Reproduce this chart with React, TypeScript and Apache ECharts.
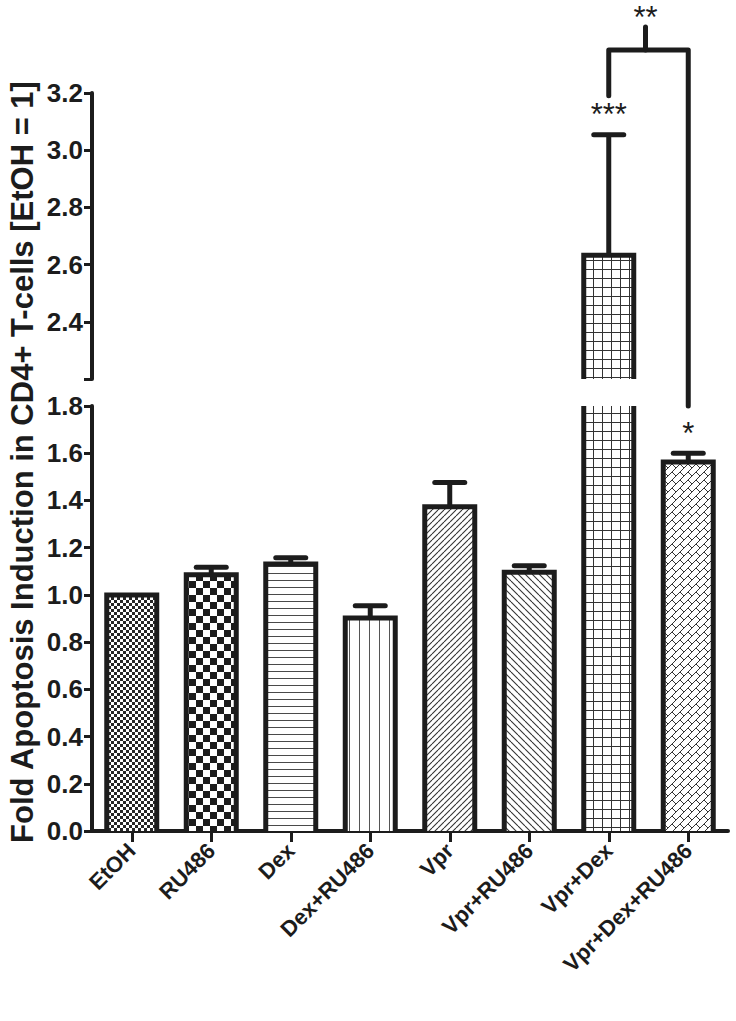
import React, { useEffect, useRef } from "react";
import * as echarts from "echarts";

// ---------- data ----------
const categories = ["EtOH", "RU486", "Dex", "Dex+RU486", "Vpr", "Vpr+RU486", "Vpr+Dex", "Vpr+Dex+RU486"];
const meanValues = [1.0, 1.085, 1.131, 0.902, 1.373, 1.096, 2.633, 1.563];
const semValues = [0, 0.032, 0.026, 0.052, 0.103, 0.027, 0.421, 0.037];
const significance = ["", "", "", "", "", "", "***", "*"];
const patternKinds = ["fineCheck", "coarseCheck", "horizontal", "vertical", "diagUp", "diagDown", "grid", "brick"];

const LOWER_MIN = 0;
const LOWER_MAX = 1.8;
const UPPER_MIN = 2.2;
const UPPER_MAX = 3.2;
const TICK_STEP = 0.2;

// comparison bracket (Vpr+Dex vs Vpr+Dex+RU486)
const bracketFrom = 6;
const bracketTo = 7;
const bracketValue = 3.35;
const bracketLeftEnd = 3.19;
const bracketLabel = "**";

const yTitle = "Fold Apoptosis Induction in CD4+ T-cells [EtOH = 1]";

// ---------- layout / style ----------
const W = 736;
const H = 1021;
const GRID_LEFT = 92;
const GRID_WIDTH = 636;
const UPPER_TOP = 93;
const UPPER_H = 286;
const LOWER_TOP = 406;
const LOWER_H = 425;
const GAP = LOWER_TOP - (UPPER_TOP + UPPER_H);
const BAR_W = 50;
const BORDER = 5;
const CAP_W = 30;
const INK = "#1c1c1c";
const FONT = "'Liberation Sans', Arial, Helvetica, sans-serif";

function tile(w: number, h: number, draw: (ctx: CanvasRenderingContext2D) => void) {
  const c = document.createElement("canvas");
  c.width = w;
  c.height = h;
  const ctx = c.getContext("2d") as CanvasRenderingContext2D;
  ctx.fillStyle = "#ffffff";
  ctx.fillRect(0, 0, w, h);
  draw(ctx);
  return c;
}

function makePattern(kind: string) {
  switch (kind) {
    case "fineCheck":
      return tile(6, 6, (ctx) => {
        ctx.fillStyle = "#262626";
        ctx.fillRect(0, 0, 3, 3);
        ctx.fillRect(3, 3, 3, 3);
      });
    case "coarseCheck":
      return tile(14, 14, (ctx) => {
        ctx.fillStyle = "#1c1c1c";
        ctx.fillRect(0, 0, 7, 7);
        ctx.fillRect(7, 7, 7, 7);
      });
    case "horizontal":
      return tile(8, 7, (ctx) => {
        ctx.fillStyle = "#4a4a4a";
        ctx.fillRect(0, 6, 8, 1);
      });
    case "vertical":
      return tile(10, 10, (ctx) => {
        ctx.fillStyle = "#555555";
        ctx.fillRect(9, 0, 1, 10);
      });
    case "diagUp":
      return tile(6, 6, (ctx) => {
        ctx.strokeStyle = "#333333";
        ctx.lineWidth = 1.1;
        for (const k of [-6, 0, 6]) {
          ctx.beginPath();
          ctx.moveTo(k, 6);
          ctx.lineTo(k + 6, 0);
          ctx.stroke();
        }
      });
    case "diagDown":
      return tile(7, 7, (ctx) => {
        ctx.strokeStyle = "#333333";
        ctx.lineWidth = 1.1;
        for (const k of [-7, 0, 7]) {
          ctx.beginPath();
          ctx.moveTo(k, 0);
          ctx.lineTo(k + 7, 7);
          ctx.stroke();
        }
      });
    case "grid":
      return tile(9, 9, (ctx) => {
        ctx.fillStyle = "#333333";
        ctx.fillRect(8, 0, 1, 9);
        ctx.fillRect(0, 8, 9, 1);
      });
    case "brick":
    default:
      return tile(8, 8, (ctx) => {
        const T = 8;
        ctx.strokeStyle = "#333333";
        ctx.lineWidth = 1;
        for (const dx of [-T, 0, T]) {
          for (const dy of [-T, 0, T]) {
            ctx.beginPath();
            ctx.moveTo(dx, dy + T);
            ctx.lineTo(dx + T, dy);
            ctx.stroke();
            ctx.beginPath();
            ctx.moveTo(dx, dy);
            ctx.lineTo(dx + T / 2, dy + T / 2);
            ctx.stroke();
          }
        }
      });
  }
}

export default function App() {
  const ref = useRef<HTMLDivElement>(null);

  useEffect(() => {
    if (!ref.current) return;
    const chart = echarts.init(ref.current, undefined, { renderer: "svg" });

    const patterns = patternKinds.map((k) => ({ image: makePattern(k), repeat: "repeat" }));
    const rows = meanValues.map((m, i) => [i, m, semValues[i]]);

    const lowerBars = meanValues.map((v, i) => ({ value: v, itemStyle: { color: patterns[i] } }));
    const upperBars = meanValues.map((v, i) =>
      v > UPPER_MIN ? { value: v, itemStyle: { color: patterns[i] } } : "-"
    );

    const lineStyle = { stroke: INK, lineWidth: BORDER, fill: null as any };

    const outline = (lo: number, hi: number, isLower: boolean) => (params: any, api: any) => {
      const idx = api.value(0);
      const v = api.value(1);
      if (!isLower && v <= lo) return null;
      const base = api.coord([idx, lo]);
      const top = api.coord([idx, Math.min(v, hi)]);
      const x = base[0];
      const h = BAR_W / 2;
      if (v <= hi) {
        return {
          type: "polyline",
          shape: { points: [[x - h, base[1]], [x - h, top[1]], [x + h, top[1]], [x + h, base[1]]] },
          style: lineStyle,
        };
      }
      return {
        type: "group",
        children: [
          { type: "line", shape: { x1: x - h, y1: base[1], x2: x - h, y2: top[1] }, style: lineStyle },
          { type: "line", shape: { x1: x + h, y1: base[1], x2: x + h, y2: top[1] }, style: lineStyle },
        ],
      };
    };

    const errorBar = (lo: number, hi: number) => (params: any, api: any) => {
      const idx = api.value(0);
      const v = api.value(1);
      const e = api.value(2);
      if (!(e > 0)) return null;
      if (v < lo || v > hi) return null;
      const p0 = api.coord([idx, v]);
      const p1 = api.coord([idx, v + e]);
      const children: any[] = [
        { type: "line", shape: { x1: p0[0], y1: p0[1], x2: p1[0], y2: p1[1] }, style: lineStyle },
        {
          type: "line",
          shape: { x1: p1[0] - CAP_W / 2, y1: p1[1], x2: p1[0] + CAP_W / 2, y2: p1[1] },
          style: { ...lineStyle, lineCap: "round" },
        },
      ];
      const star = significance[idx];
      if (star) {
        children.push({
          type: "text",
          x: p1[0],
          y: p1[1] - 20,
          style: {
            text: star,
            fontSize: 31,
            fontFamily: FONT,
            fill: INK,
            align: "center",
            verticalAlign: "middle",
          },
        });
      }
      return { type: "group", children };
    };

    const bracket = (params: any, api: any) => {
      if (params.dataIndex !== bracketFrom) return null;
      const a = api.coord([bracketFrom, bracketValue]);
      const b = api.coord([bracketTo, bracketValue]);
      const aEnd = api.coord([bracketFrom, bracketLeftEnd]);
      const bEnd = api.coord([bracketTo, UPPER_MIN]);
      const mid = (a[0] + b[0]) / 2 - 3;
      const bs = { ...lineStyle, lineJoin: "round", lineCap: "round" };
      return {
        type: "group",
        children: [
          {
            type: "polyline",
            shape: { points: [[a[0], aEnd[1]], [a[0], a[1]], [b[0], b[1]], [b[0], bEnd[1] + GAP]] },
            style: bs,
          },
          { type: "line", shape: { x1: mid, y1: a[1], x2: mid, y2: a[1] - 23 }, style: bs },
          {
            type: "text",
            x: mid,
            y: a[1] - 33,
            style: {
              text: bracketLabel,
              fontSize: 31,
              fontFamily: FONT,
              fill: INK,
              align: "center",
              verticalAlign: "middle",
            },
          },
        ],
      };
    };

    const yAxisCommon = {
      type: "value",
      interval: TICK_STEP,
      splitLine: { show: false },
      axisLine: { show: true, lineStyle: { color: INK, width: 4 } },
      axisTick: { show: true, length: 8, lineStyle: { color: INK, width: 3 } },
    };
    const labelStyle = {
      color: INK,
      fontFamily: FONT,
      fontWeight: "bold",
      fontSize: 26,
      margin: 9,
    };

    chart.setOption({
      animation: false,
      grid: [
        { left: GRID_LEFT, top: UPPER_TOP, width: GRID_WIDTH, height: UPPER_H },
        { left: GRID_LEFT, top: LOWER_TOP, width: GRID_WIDTH, height: LOWER_H },
      ],
      xAxis: [
        {
          type: "category",
          gridIndex: 0,
          data: categories,
          show: false,
        },
        {
          type: "category",
          gridIndex: 1,
          data: categories,
          axisLine: { show: true, lineStyle: { color: INK, width: 4 } },
          axisTick: { show: true, alignWithLabel: true, length: 11, lineStyle: { color: INK, width: 3 } },
          axisLabel: { ...labelStyle, fontSize: 22, rotate: 45, interval: 0, margin: 16 },
        },
      ],
      yAxis: [
        {
          ...yAxisCommon,
          gridIndex: 0,
          min: UPPER_MIN,
          max: UPPER_MAX,
          axisLabel: {
            ...labelStyle,
            formatter: (v: number) => (v < UPPER_MIN + TICK_STEP / 2 ? "" : v.toFixed(1)),
          },
        },
        {
          ...yAxisCommon,
          gridIndex: 1,
          min: LOWER_MIN,
          max: LOWER_MAX,
          axisLabel: { ...labelStyle, formatter: (v: number) => v.toFixed(1) },
        },
      ],
      graphic: [
        {
          type: "text",
          x: 22,
          y: 462,
          rotation: Math.PI / 2,
          style: {
            text: yTitle,
            fontSize: 31,
            fontWeight: "bold",
            fontFamily: FONT,
            fill: INK,
            align: "center",
            verticalAlign: "middle",
          },
        },
      ],
      series: [
        {
          type: "bar",
          xAxisIndex: 0,
          yAxisIndex: 0,
          data: upperBars,
          barWidth: BAR_W,
          clip: true,
          z: 2,
        },
        {
          type: "bar",
          xAxisIndex: 1,
          yAxisIndex: 1,
          data: lowerBars,
          barWidth: BAR_W,
          clip: true,
          z: 2,
        },
        {
          type: "custom",
          xAxisIndex: 0,
          yAxisIndex: 0,
          data: rows,
          encode: { x: 0, y: 1 },
          renderItem: outline(UPPER_MIN, UPPER_MAX, false),
          z: 3,
        },
        {
          type: "custom",
          xAxisIndex: 1,
          yAxisIndex: 1,
          data: rows,
          encode: { x: 0, y: 1 },
          renderItem: outline(LOWER_MIN, LOWER_MAX, true),
          z: 3,
        },
        {
          type: "custom",
          xAxisIndex: 0,
          yAxisIndex: 0,
          data: rows,
          encode: { x: 0, y: 1 },
          renderItem: errorBar(UPPER_MIN, UPPER_MAX),
          z: 4,
        },
        {
          type: "custom",
          xAxisIndex: 1,
          yAxisIndex: 1,
          data: rows,
          encode: { x: 0, y: 1 },
          renderItem: errorBar(LOWER_MIN, LOWER_MAX),
          z: 4,
        },
        {
          type: "custom",
          xAxisIndex: 0,
          yAxisIndex: 0,
          data: rows,
          encode: { x: 0, y: 1 },
          renderItem: bracket,
          z: 4,
        },
      ],
    });

    return () => chart.dispose();
  }, []);

  return (
    <div
      ref={ref}
      style={{ position: "fixed", left: 0, top: 0, width: W, height: H, background: "#ffffff" }}
    />
  );
}
